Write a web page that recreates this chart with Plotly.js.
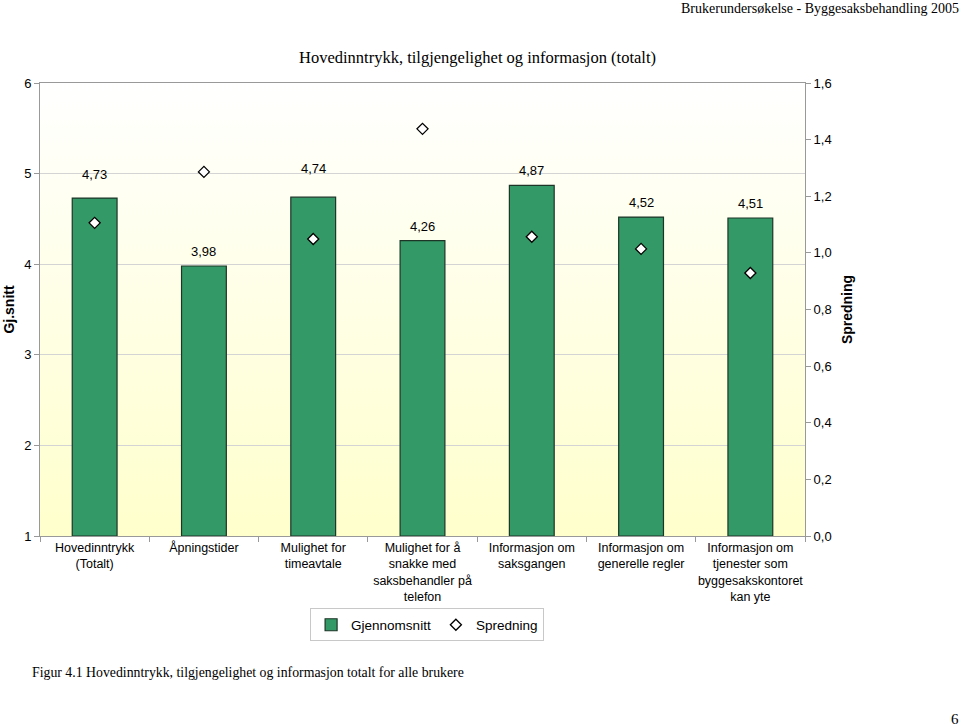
<!DOCTYPE html>
<html>
<head>
<meta charset="utf-8">
<script src="https://cdn.plot.ly/plotly-3.0.1.min.js"></script>
<style>
html,body{margin:0;padding:0;background:#fff;}
#chart{width:960px;height:726px;}
</style>
</head>
<body>
<div id="chart"></div>
<script>
// ---- data ----
var categories = [
  "Hovedinntrykk<br>(Totalt)",
  "Åpningstider",
  "Mulighet for<br>timeavtale",
  "Mulighet for å<br>snakke med<br>saksbehandler på<br>telefon",
  "Informasjon om<br>saksgangen",
  "Informasjon om<br>generelle regler",
  "Informasjon om<br>tjenester som<br>byggesakskontoret<br>kan yte"
];
var gjennomsnitt = [4.73, 3.98, 4.74, 4.26, 4.87, 4.52, 4.51];
var spredning = [1.106, 1.286, 1.049, 1.438, 1.057, 1.014, 0.929];
var leftTicks = [1, 2, 3, 4, 5, 6];
var rightTicks = [0, 0.2, 0.4, 0.6, 0.8, 1.0, 1.2, 1.4, 1.6];

// label lift (style)
var labelLift = [9, 0, 14, 0, 0, 0, 0];

var sans = "Liberation Sans, Arial, sans-serif";
var serif = "Liberation Serif, Times New Roman, serif";

var gradSvg = '<svg xmlns="http://www.w3.org/2000/svg" width="100" height="100" preserveAspectRatio="none">' +
  '<defs><linearGradient id="g" x1="0" y1="0" x2="0" y2="1">' +
  '<stop offset="0" stop-color="#ffffff"/><stop offset="1" stop-color="#ffffcc"/></linearGradient></defs>' +
  '<rect width="100" height="100" fill="url(#g)"/></svg>';
var gradUri = 'data:image/svg+xml;utf8,' + encodeURIComponent(gradSvg);

var traces = [
  {
    type: 'bar',
    name: 'Gjennomsnitt',
    x: categories,
    y: gjennomsnitt.map(function(v){ return v - 1; }),
    base: 1,
    width: 0.41,
    marker: {color: '#339966', line: {color: '#1c3527', width: 1.2}},
    hoverinfo: 'none'
  },
  {
    type: 'scatter',
    mode: 'markers',
    name: 'Spredning',
    x: categories,
    y: spredning,
    yaxis: 'y2',
    marker: {symbol: 'diamond', size: 8.5, color: '#ffffff', line: {color: '#000000', width: 1.3}},
    hoverinfo: 'none'
  }
];

var annotations = gjennomsnitt.map(function(v, i){
  return {
    x: categories[i], y: v, xref: 'x', yref: 'y',
    text: v.toFixed(2).replace('.', ','),
    showarrow: false, yanchor: 'bottom', yshift: 5 + labelLift[i],
    font: {family: sans, size: 13, color: '#000'}
  };
});
annotations.push(
  {xref: 'paper', yref: 'paper', x: 0.572, y: 1.057, xanchor: 'center', yanchor: 'middle',
   text: 'Hovedinntrykk, tilgjengelighet og informasjon (totalt)', showarrow: false,
   font: {family: serif, size: 16.5, color: '#000'}},
  {xref: 'paper', yref: 'paper', x: 1.2045, y: 1.165, xanchor: 'right', yanchor: 'middle',
   text: 'Brukerundersøkelse - Byggesaksbehandling 2005', showarrow: false,
   font: {family: serif, size: 14, color: '#000'}},
  {xref: 'paper', yref: 'paper', x: -0.013, y: -0.302, xanchor: 'left', yanchor: 'middle',
   text: 'Figur 4.1 Hovedinntrykk, tilgjengelighet og informasjon totalt for alle brukere', showarrow: false,
   font: {family: serif, size: 13.8, color: '#000'}},
  {xref: 'paper', yref: 'paper', x: 1.2045, y: -0.403, xanchor: 'right', yanchor: 'middle',
   text: '6', showarrow: false,
   font: {family: serif, size: 15, color: '#000'}}
);

var layout = {
  width: 960, height: 726,
  margin: {l: 40, r: 155, t: 83, b: 190, pad: 0},
  paper_bgcolor: '#ffffff',
  plot_bgcolor: 'rgba(0,0,0,0)',
  separators: ',.',
  showlegend: true,
  legend: {
    orientation: 'h', x: 0.506, y: -0.16, xanchor: 'center', yanchor: 'top',
    bgcolor: '#ffffff', bordercolor: '#c8c8c8', borderwidth: 1,
    font: {family: sans, size: 13.5, color: '#000'},
    itemwidth: 30, tracegroupgap: 0
  },
  images: [{
    source: gradUri, xref: 'paper', yref: 'paper', x: 0, y: 1, sizex: 1, sizey: 1,
    sizing: 'stretch', xanchor: 'left', yanchor: 'top', layer: 'below'
  }],
  xaxis: {
    type: 'category',
    tickfont: {family: sans, size: 12.5, color: '#000'},
    ticks: 'outside', tickson: 'boundaries', ticklen: 5, tickcolor: '#999',
    showline: true, linecolor: '#999', linewidth: 1, mirror: true,
    showgrid: false, tickangle: 0, automargin: false, fixedrange: true
  },
  yaxis: {
    range: [1, 6], tickvals: leftTicks, ticktext: leftTicks.map(String),
    tickfont: {family: sans, size: 13, color: '#000'},
    ticks: 'outside', ticklen: 5, tickcolor: '#999',
    showline: true, linecolor: '#999', linewidth: 1,
    showgrid: true, gridcolor: '#d4d4d4', gridwidth: 1, zeroline: false,
    title: {text: '<b>Gj.snitt</b>', font: {family: sans, size: 14, color: '#000'}, standoff: 6},
    automargin: false, fixedrange: true
  },
  yaxis2: {
    overlaying: 'y', side: 'right',
    range: [0, 1.6], tickvals: rightTicks,
    ticktext: rightTicks.map(function(v){ return v.toFixed(1).replace('.', ','); }),
    tickfont: {family: sans, size: 13, color: '#000'},
    ticks: 'outside', ticklen: 5, tickcolor: '#999',
    showline: true, linecolor: '#999', linewidth: 1,
    showgrid: false, zeroline: false,
    title: {text: '<b>Spredning</b>', font: {family: sans, size: 14, color: '#000'}, standoff: 11},
    automargin: false, fixedrange: true
  },
  annotations: annotations
};

Plotly.newPlot('chart', traces, layout, {staticPlot: true, displayModeBar: false});
</script>
</body>
</html>
